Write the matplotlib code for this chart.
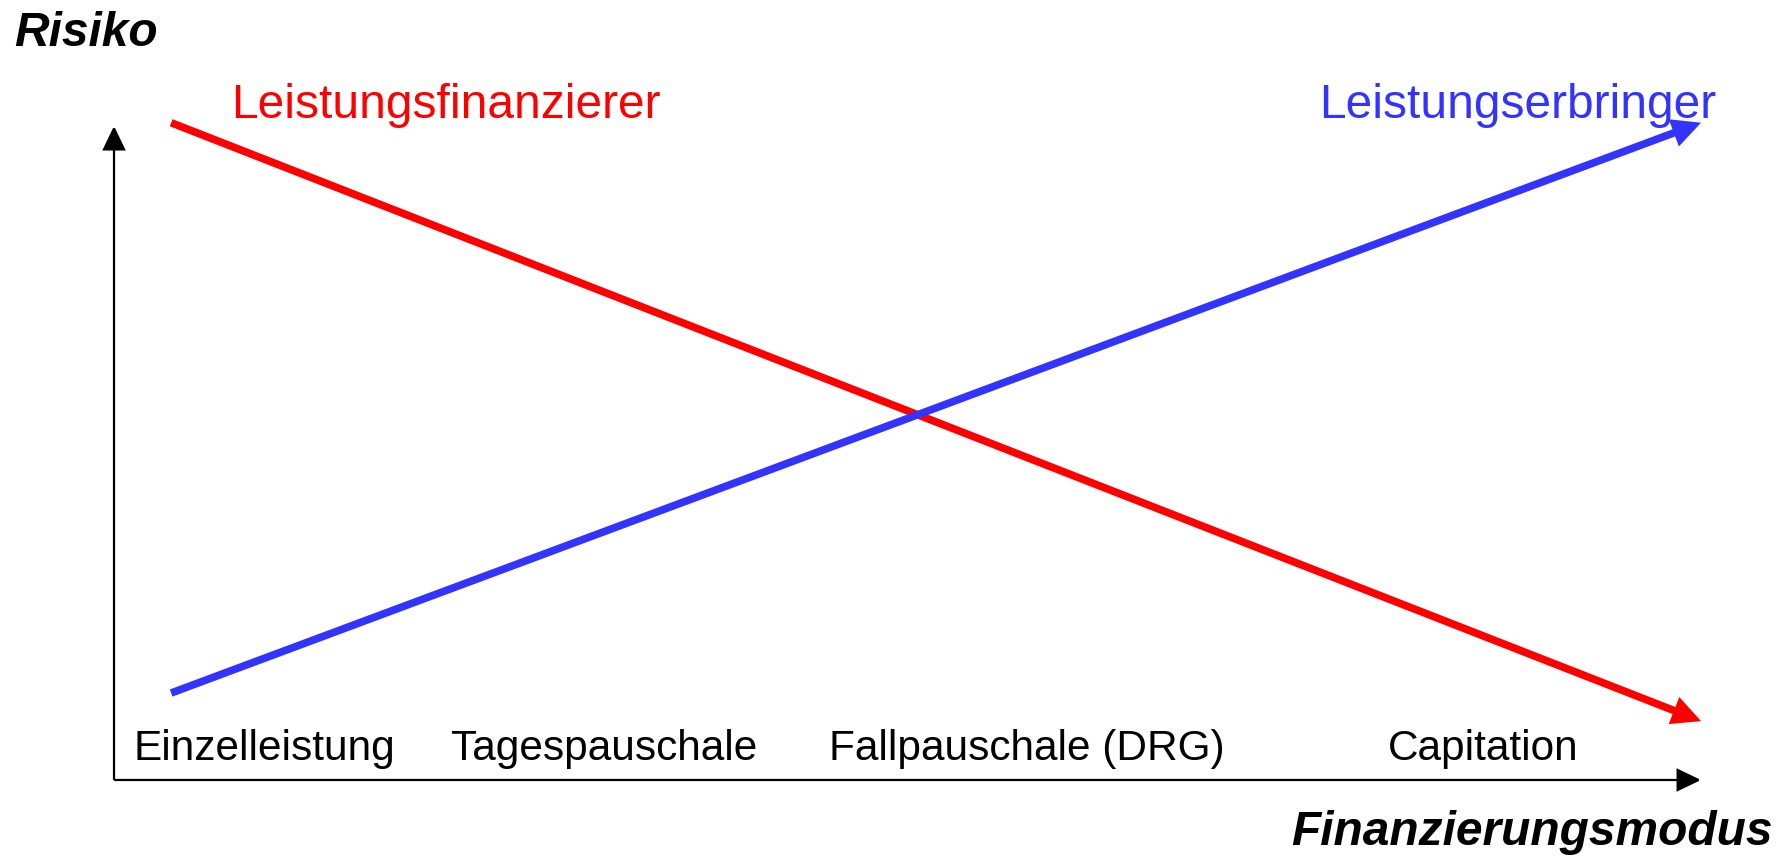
import matplotlib
matplotlib.use("Agg")
import matplotlib.pyplot as plt

plt.rcParams["font.family"] = ["Liberation Sans", "DejaVu Sans"]

# ---- data ----
categories = ["Einzelleistung", "Tagespauschale", "Fallpauschale (DRG)", "Capitation"]
category_x = [0.095, 0.309, 0.575, 0.863]
category_y = 0.030

modus_x = [0.036, 1.0]              # start / end on Finanzierungsmodus axis
risk_finanzierer = [1.005, 0.090]   # Leistungsfinanzierer
risk_erbringer = [0.133, 1.005]     # Leistungserbringer

RED = "#FF0000"
BLUE = "#3333FF"

fig = plt.figure(figsize=(17.9, 8.56), dpi=100)
ax = fig.add_axes([0.0637, 0.0888, 0.8866, 0.764])
ax.set_xlim(0, 1)
ax.set_ylim(0, 1)
ax.axis("off")

axis_arrow = dict(arrowstyle="-|>,head_length=0.75,head_width=0.36", mutation_scale=20,
                  color="black", lw=1.6, shrinkA=0, shrinkB=0,
                  capstyle="butt", joinstyle="miter")
ax.annotate("", xy=(1, 0), xytext=(0, 0), arrowprops=axis_arrow, annotation_clip=False)
ax.annotate("", xy=(0, 1), xytext=(0, 0), arrowprops=axis_arrow, annotation_clip=False)


def risk_arrow(values, color):
    ax.annotate("", xy=(modus_x[1], values[1]), xytext=(modus_x[0], values[0]),
                arrowprops=dict(arrowstyle="-|>,head_length=0.6,head_width=0.3",
                                mutation_scale=20, color=color, lw=5.5,
                                shrinkA=0, shrinkB=0,
                                capstyle="butt", joinstyle="miter"),
                annotation_clip=False)


risk_arrow(risk_finanzierer, RED)
risk_arrow(risk_erbringer, BLUE)

for label, x in zip(categories, category_x):
    ax.text(x, category_y, label, ha="center", va="baseline", fontsize=30.5, color="black")

fig.text(14 / 1790, 1 - 46 / 856, "Risiko", ha="left", va="baseline",
         fontsize=34.5, fontweight="bold", fontstyle="italic")
fig.text(1773 / 1790, 1 - 845 / 856, "Finanzierungsmodus", ha="right", va="baseline",
         fontsize=34.5, fontweight="bold", fontstyle="italic")
fig.text(231 / 1790, 1 - 118 / 856, "Leistungsfinanzierer", ha="left", va="baseline",
         fontsize=34.5, color=RED)
fig.text(1716 / 1790, 1 - 118 / 856, "Leistungserbringer", ha="right", va="baseline",
         fontsize=34.5, color=BLUE)

fig.savefig("out.png", dpi=100, facecolor="white")
